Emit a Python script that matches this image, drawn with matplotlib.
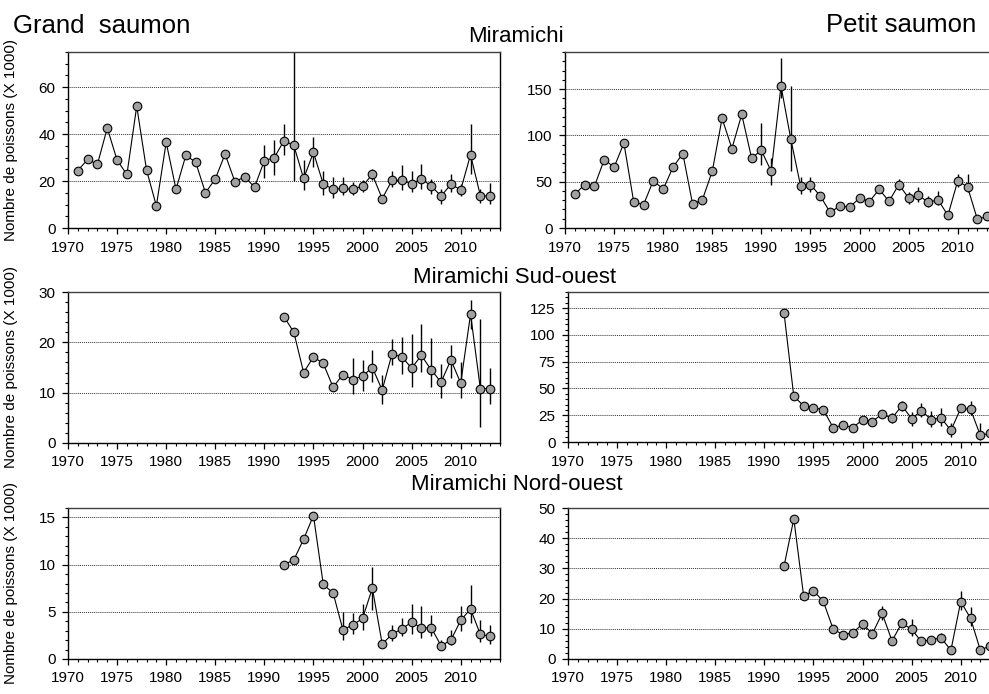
import numpy as np
import matplotlib
matplotlib.use("Agg")
import matplotlib.pyplot as plt
from matplotlib.ticker import MultipleLocator

plt.rcParams['font.family'] = ['Liberation Sans', 'DejaVu Sans']

nan = np.nan

# ---------------- data ----------------
years_all = list(range(1971, 2014))
years_92 = list(range(1992, 2014))

# Grand saumon - Miramichi (1971-2013)
gm_val = [24.5, 29.2, 27.2, 42.6, 28.9, 22.8, 51.9, 24.7, 9.4, 36.5,
          16.5, 30.9, 28.1, 15.0, 20.9, 31.5, 19.7, 21.8, 17.4, 28.7,
          29.9, 37.2, 35.2, 21.1, 32.2, 18.7, 16.5, 16.9, 16.5, 17.9,
          22.8, 12.5, 20.3, 20.3, 18.9, 20.9, 17.9, 13.6, 18.6, 16.3,
          31.2, 13.8, 13.5]
gm_lo = [nan] * 19 + [21.4, 22.4, 31.1, 19.9, 16.0, 26.0, 14.2, 12.9, 13.9, 13.9, 15.3,
                      20.3, nan, 17.4, 16.3, 15.3, 16.7, 14.6, 10.1, 15.3, 13.5,
                      23.1, 10.8, 10.1]
gm_hi = [nan] * 19 + [35.5, 37.3, 44.4, 95.0, 28.8, 38.7, 24.5, 21.7, 21.7, 19.6, 20.3,
                      25.2, nan, 24.3, 27.0, 24.5, 27.4, 21.0, 16.7, 22.8, 18.9,
                      44.4, 16.7, 19.1]

# Petit saumon - Miramichi (1971-2013)
pm_val = [36.4, 46.9, 45.1, 73.9, 65.6, 91.6, 28.1, 25.2, 51.2, 41.8,
          65.6, 80.4, 25.6, 30.7, 61.3, 118.3, 85.8, 122.6, 75.7, 83.7,
          61.3, 153.3, 95.9, 45.1, 46.9, 34.6, 16.9, 23.8, 22.4, 32.5,
          28.5, 41.8, 28.8, 46.9, 32.5, 35.3, 27.8, 30.3, 13.7, 50.8,
          44.4, 9.4, 12.6]
pm_lo = [nan] * 19 + [68.5, 46.9, 140.0, 61.7, 37.1, 38.9, nan, nan, nan, nan, nan,
                      nan, nan, nan, 40.8, 26.0, 28.1, 22.5, 24.5, nan, 44.4,
                      38.9, nan, nan]
pm_hi = [nan] * 19 + [112.9, 76.1, 183.9, 153.3, 55.2, 55.2, nan, nan, nan, nan, nan,
                      nan, nan, nan, 53.4, 39.0, 44.4, 35.0, 39.7, nan, 58.0,
                      58.0, nan, nan]

# Grand saumon - Miramichi Sud-ouest (1992-2013)
gs_val = [25.1, 22.0, 14.0, 17.1, 15.8, 11.1, 13.6, 12.6, 13.3, 15.0,
          10.5, 17.7, 17.1, 14.9, 17.4, 14.5, 12.1, 16.5, 11.9, 25.6,
          10.8, 10.8]
gs_lo = [nan] * 7 + [9.7, 10.4, 12.2, 7.8, 15.5, 13.8, 11.2, 14.2, 11.2, 8.9, 12.9,
                     8.9, 22.7, 3.1, 7.7]
gs_hi = [nan] * 7 + [16.9, 16.5, 18.5, 13.5, 20.6, 21.1, 21.6, 23.6, 20.8, 15.7, 19.4,
                     16.1, 28.5, 24.6, 15.0]

# Petit saumon - Miramichi Sud-ouest (1992-2013)
ps_val = [120.7, 42.5, 33.9, 32.0, 30.2, 13.5, 15.7, 13.5, 20.6, 19.1,
          26.2, 22.2, 33.9, 21.9, 29.2, 20.9, 22.5, 10.8, 31.4, 30.5,
          6.2, 8.0]
ps_lo = [nan] * 8 + [17.5, nan, nan, 17.5, 29.2, 15.4, 23.1, 13.9, 14.5, 4.3,
                     nan, 25.2, 2.2, 4.0]
ps_hi = [nan] * 8 + [23.5, nan, nan, 27.5, 38.2, 28.3, 36.0, 29.2, 31.4, 17.5,
                     nan, 37.9, 18.2, 12.0]

# Grand saumon - Miramichi Nord-ouest (1992-2013)
gn_val = [10.0, 10.5, 12.7, 15.2, 7.9, 7.0, 3.1, 3.6, 4.3, 7.5,
          1.6, 2.6, 3.2, 3.9, 3.3, 3.3, 1.4, 2.0, 4.1, 5.3,
          2.6, 2.4]
gn_lo = [nan] * 6 + [2.0, 2.7, 3.1, 5.2, nan, 1.9, 2.4, 2.7, 2.2, 2.4, 1.0, 1.5,
                     3.0, 3.8, 1.8, 1.6]
gn_hi = [nan] * 6 + [5.0, 4.9, 5.8, 9.7, nan, 3.6, 4.3, 5.8, 5.6, 4.7, 2.0, 3.1,
                     5.6, 7.8, 4.1, 3.6]

# Petit saumon - Miramichi Nord-ouest (1992-2013)
pn_val = [30.7, 46.4, 20.9, 22.6, 19.1, 10.0, 8.0, 8.7, 11.6, 8.4,
          15.1, 6.0, 11.9, 9.8, 5.8, 6.4, 7.0, 2.9, 19.0, 13.5,
          2.9, 4.4]
pn_lo = [nan] * 10 + [13.0, nan, 10.5, 7.5, nan, nan, 5.5, nan, 16.3, 10.8, nan, nan]
pn_hi = [nan] * 10 + [17.7, nan, 13.5, 13.3, nan, nan, 8.5, nan, 22.5, 17.1, nan, nan]

xtick_labels = ['1970', '1975', '1980', '1985', '1990', '1995', '2000', '2005', '2010']

panels = [
    # (x_left_px, top_px, bottom_px, years, val, lo, hi, ymax, major, minor)
    (68, 52, 228, years_all, gm_val, gm_lo, gm_hi, 75, 20, 5),
    (565, 52, 228, years_all, pm_val, pm_lo, pm_hi, 190, 50, 10),
    (68, 292, 443, years_92, gs_val, gs_lo, gs_hi, 30, 10, 2),
    (568, 292, 442, years_92, ps_val, ps_lo, ps_hi, 140, 25, 5),
    (68, 508, 659, years_92, gn_val, gn_lo, gn_hi, 16, 5, 1),
    (568, 508, 659, years_92, pn_val, pn_lo, pn_hi, 50, 10, 2),
]

W, H = 989, 694
fig = plt.figure(figsize=(W / 100, H / 100), dpi=100)

for (xl, top, bot, yrs, val, lo, hi, ymax, major, minor) in panels:
    width = 432
    ax = fig.add_axes([xl / W, 1 - bot / H, width / W, (bot - top) / H])
    yrs = np.array(yrs, dtype=float)
    val = np.array(val, dtype=float)
    lo = np.array(lo, dtype=float)
    hi = np.array(hi, dtype=float)
    m = ~np.isnan(lo)
    ax.errorbar(yrs[m], val[m], yerr=[val[m] - lo[m], hi[m] - val[m]], fmt='none',
                ecolor='black', elinewidth=1.0, capsize=0, zorder=2)
    ax.plot(yrs, val, '-', color='black', lw=0.8, zorder=3)
    ax.plot(yrs, val, 'o', ms=6.2, mfc='#a0a0a0', mec='black', mew=0.8, zorder=4,
            clip_on=False)
    ax.set_xlim(1970, 2014)
    ax.set_ylim(0, ymax)
    ax.xaxis.set_major_locator(MultipleLocator(5))
    ax.xaxis.set_minor_locator(MultipleLocator(1))
    ax.yaxis.set_major_locator(MultipleLocator(major))
    ax.yaxis.set_minor_locator(MultipleLocator(minor))
    ax.set_xticks(range(1970, 2011, 5))
    ax.set_xticklabels(xtick_labels)
    ax.tick_params(axis='both', which='major', direction='out', length=4, width=0.9,
                   labelsize=11, pad=5, color='black')
    ax.tick_params(axis='both', which='minor', direction='out', length=2.5, width=0.8,
                   color='black')
    ax.yaxis.grid(True, which='major', linestyle=(0, (1, 1)), color='#333333', lw=0.7)
    ax.set_axisbelow(True)
    for s in ax.spines.values():
        s.set_linewidth(1.0)
        s.set_color('black')
    ax.spines['top'].set_color('#404040')
    if xl < 100:
        ax.set_ylabel('Nombre de poissons (X 1000)', fontsize=11)
        ax.yaxis.set_label_coords((18 - xl) / width, 0.5)

fig.text(13 / W, 1 - 33 / H, 'Grand  saumon', fontsize=18.5, ha='left', va='baseline')
fig.text(976 / W, 1 - 32 / H, 'Petit saumon', fontsize=18.5, ha='right', va='baseline')
fig.text(516 / W, 1 - 41.5 / H, 'Miramichi', fontsize=16, ha='center', va='baseline')
fig.text(515 / W, 1 - 283 / H, 'Miramichi Sud-ouest', fontsize=16, ha='center', va='baseline')
fig.text(517 / W, 1 - 490 / H, 'Miramichi Nord-ouest', fontsize=16, ha='center', va='baseline')

fig.savefig('out.png', dpi=100)
